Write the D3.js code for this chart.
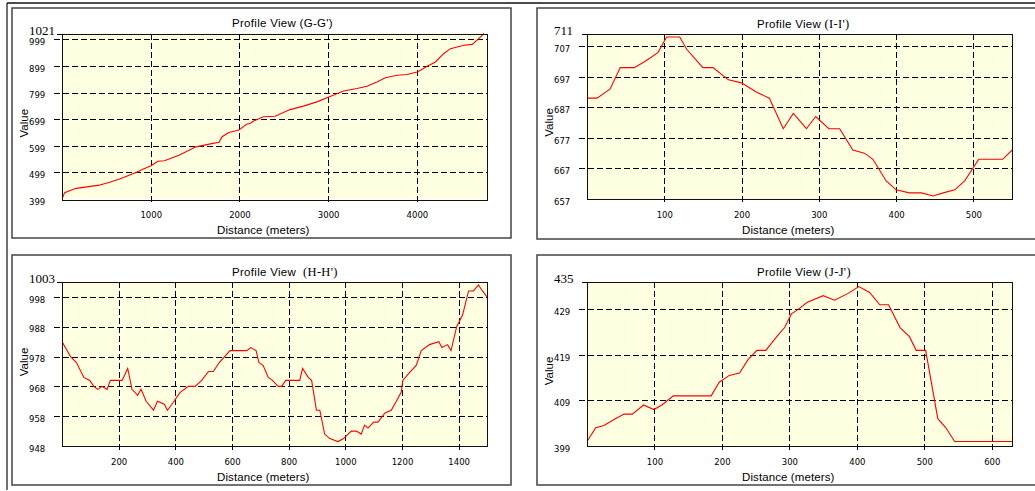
<!DOCTYPE html>
<html>
<head>
<meta charset="utf-8">
<script src="https://cdn.jsdelivr.net/npm/d3@7"></script>
<style>
  body { margin: 0; background: #fff; }
  svg { display: block; }
</style>
</head>
<body>
<div id="chart"></div>
<script>
// Profile G-G'
const ggDistance = [0, 30, 160, 420, 535, 650, 835, 910, 1005, 1080, 1155, 1325, 1510, 1700, 1770, 1805, 1880, 1995, 2080, 2119, 2160, 2269, 2401, 2571, 2721, 2872, 3015, 3173, 3324, 3437, 3550, 3644, 3776, 3889, 4002, 4040, 4115, 4209, 4303, 4379, 4529, 4624, 4718, 4755];
const ggValue = [399, 423, 439, 451, 462, 474, 499, 511, 524, 541, 543, 564, 595, 608, 612, 633, 649, 658, 680, 683, 692, 708, 710, 735, 748, 764, 783, 805, 814, 823, 839, 855, 864, 867, 876, 883, 898, 914, 946, 964, 977, 980, 1008, 1021];
const ggXTicks = [1000, 2000, 3000, 4000];
const ggYTicks = [399, 499, 599, 699, 799, 899, 999];

// Profile I-I'
const iiDistance = [0, 13, 30, 43, 61, 75, 92, 103, 120, 129, 150, 163, 183, 200, 219, 236, 254, 267, 284, 296, 313, 327, 344, 359, 370, 387, 400, 417, 433, 448, 461, 476, 489, 507, 538, 550];
const iiValue = [690, 690, 693, 700, 700, 702, 705, 710, 710, 706, 700, 700, 696, 695, 692, 690, 680, 685, 680, 684, 680, 680, 673, 672, 670, 663, 660, 659, 659, 658, 659, 660, 663, 670, 670, 673];
const iiXTicks = [100, 200, 300, 400, 500];
const iiYTicks = [657, 667, 677, 687, 697, 707];

// Profile H-H'
const hhDistance = [0, 18, 30, 51, 77, 98, 112, 126, 141, 159, 171, 212, 232, 247, 267, 279, 297, 323, 337, 361, 372, 388, 417, 446, 470, 493, 517, 534, 555, 593, 652, 666, 685, 695, 710, 728, 743, 763, 775, 790, 839, 849, 869, 881, 898, 910, 927, 945, 974, 994, 1021, 1039, 1056, 1068, 1080, 1100, 1115, 1139, 1162, 1180, 1197, 1203, 1221, 1250, 1268, 1297, 1330, 1341, 1361, 1373, 1393, 1414, 1435, 1452, 1470, 1484, 1500];
const hhValue = [983, 980, 978, 976, 971, 970, 968, 967, 968, 967, 970, 970, 974, 967, 965, 967, 963, 960, 963, 962, 960, 962, 966, 968, 968, 970, 973, 973, 976, 980, 980, 981, 980, 976, 975, 971, 970, 968, 968, 970, 970, 974, 971, 970, 960, 960, 952, 950.5, 949.5, 950.5, 953, 953, 952, 955, 954, 956, 956, 959, 960, 963, 966, 970, 972, 975, 980, 982, 983, 981, 982, 980, 988, 992, 1000, 1000, 1002, 1000, 998];
const hhXTicks = [200, 400, 600, 800, 1000, 1200, 1400];
const hhYTicks = [948, 958, 968, 978, 988, 998];

// Profile J-J'
const jjDistance = [0, 13, 25, 42, 55, 67, 84, 99, 111, 128, 184, 196, 211, 226, 239, 252, 265, 284, 293, 303, 313, 326, 350, 367, 387, 403, 419, 434, 447, 464, 478, 488, 502, 520, 532, 545, 630];
const jjValue = [400, 403, 403.5, 405, 406, 406, 408, 407, 408, 410, 410, 413, 414.5, 415, 418, 420, 420, 423.5, 425, 428, 429, 430.5, 432, 431, 432.5, 434, 432.7, 430, 430, 425, 423, 420, 420, 405, 403, 400, 400];
const jjXTicks = [100, 200, 300, 400, 500, 600];
const jjYTicks = [399, 409, 419, 429];

const panels = [
  { name: "(G-G')", gap: " ", serif: false, dist: ggDistance, val: ggValue, xMax: 4790, yMin: 399, yTop: 1021, xTicks: ggXTicks, yTicks: ggYTicks,
    box: [12, 8, 511, 238], plot: [62, 33.5, 487, 199], valueDy: 7 },
  { name: "(I-I')", gap: " ", serif: true, dist: iiDistance, val: iiValue, xMax: 550, yMin: 657, yTop: 711, xTicks: iiXTicks, yTicks: iiYTicks,
    box: [537, 8, 1040, 239], plot: [587, 34, 1012, 199], valueDy: 6 },
  { name: "(H-H')", gap: "  ", serif: true, dist: hhDistance, val: hhValue, xMax: 1500, yMin: 948, yTop: 1003, xTicks: hhXTicks, yTicks: hhYTicks,
    box: [12, 255, 511, 485], plot: [62, 282, 487, 446], valueDy: -2 },
  { name: "(J-J')", gap: " ", serif: true, dist: jjDistance, val: jjValue, xMax: 630, yMin: 399, yTop: 435, xTicks: jjXTicks, yTicks: jjYTicks,
    box: [537, 255, 1040, 485], plot: [587, 282, 1012, 446], valueDy: 7 }
];

const W = 1035, H = 491;
const svg = d3.select("#chart").append("svg").attr("width", W).attr("height", H);

// outer window frame
svg.append("line").attr("x1", 7).attr("x2", W).attr("y1", 3).attr("y2", 3).attr("stroke", "#111").attr("stroke-width", 1.5);
svg.append("line").attr("x1", 7).attr("x2", 7).attr("y1", 3).attr("y2", 490).attr("stroke", "#111").attr("stroke-width", 1.2);

const px = v => Math.round(v) + 0.5;

panels.forEach((p, i) => {
  const [bx0, by0, bx1, by1] = p.box;
  const [l, t, r, b] = p.plot;
  const g = svg.append("g");

  g.append("rect").attr("x", bx0).attr("y", by0).attr("width", bx1 - bx0).attr("height", by1 - by0)
    .attr("fill", "#fff").attr("stroke", "#444").attr("stroke-width", 1.5);

  const x = d3.scaleLinear().domain([0, p.xMax]).range([l, r]);
  const y = d3.scaleLinear().domain([p.yMin, p.yTop]).range([b, t]);

  g.append("rect").attr("x", l).attr("y", t).attr("width", r - l).attr("height", b - t).attr("fill", "#ffffe1");

  // grid lines (with small ticks outside the plot)
  g.selectAll(".hg").data(p.yTicks.filter(v => v > p.yMin)).join("line")
    .attr("x1", l - 8).attr("x2", r).attr("y1", d => px(y(d))).attr("y2", d => px(y(d)))
    .attr("stroke", "#000").attr("stroke-width", 1).attr("stroke-dasharray", "6,3").attr("shape-rendering", "crispEdges");
  g.selectAll(".vg").data(p.xTicks).join("line")
    .attr("x1", d => px(x(d))).attr("x2", d => px(x(d))).attr("y1", t).attr("y2", b + 5)
    .attr("stroke", "#000").attr("stroke-width", 1).attr("stroke-dasharray", "6,3").attr("shape-rendering", "crispEdges");
  g.append("line").attr("x1", l - 5).attr("x2", l).attr("y1", px(y(p.yTop))).attr("y2", px(y(p.yTop)))
    .attr("stroke", "#000").attr("shape-rendering", "crispEdges");

  // profile line
  const clipId = "clip" + i;
  g.append("clipPath").attr("id", clipId).append("rect").attr("x", l).attr("y", t - 1).attr("width", r - l).attr("height", b - t + 1);
  const pts = p.dist.map((d, k) => [d, p.val[k]]);
  g.append("path").datum(pts).attr("clip-path", `url(#${clipId})`)
    .attr("d", d3.line().x(d => x(d[0])).y(d => y(d[1])))
    .attr("fill", "none").attr("stroke", "#ff0000").attr("stroke-width", 1.1);

  g.append("rect").attr("x", px(l)).attr("y", px(t)).attr("width", Math.round(r - l)).attr("height", Math.round(b - t))
    .attr("fill", "none").attr("stroke", "#111").attr("stroke-width", 1.2).attr("shape-rendering", "crispEdges");

  // axis labels via d3 axes
  const xAxis = d3.axisBottom(x).tickValues(p.xTicks).tickSize(0).tickPadding(12.5).tickFormat(d3.format("d"));
  const xa = g.append("g").attr("transform", `translate(0,${b})`).call(xAxis);
  xa.select(".domain").remove();
  xa.selectAll("text").attr("font-family", "DejaVu Sans").attr("font-size", 8.5).attr("fill", "#000");

  const yAxis = d3.axisLeft(y).tickValues(p.yTicks).tickSize(0).tickPadding(0).tickFormat(d3.format("d"));
  const ya = g.append("g").attr("transform", `translate(${l - 33},2.5)`).call(yAxis);
  ya.select(".domain").remove();
  ya.selectAll("text").attr("text-anchor", "start").attr("x", 0)
    .attr("font-family", "DejaVu Sans").attr("font-size", 8.5).attr("fill", "#000");

  g.append("text").attr("x", l - 33).attr("y", y(p.yTop) + 1).text(p.yTop)
    .attr("font-family", "Liberation Serif").attr("font-size", 13).attr("fill", "#000");

  // titles
  const title = g.append("text").attr("x", l + 170).attr("y", t - 6.5)
    .attr("font-family", "Liberation Sans").attr("font-size", 11.5).attr("letter-spacing", 0.3)
    .attr("fill", "#000").style("white-space", "pre");
  title.append("tspan").text("Profile View" + p.gap);
  title.append("tspan").text(p.name).attr("font-family", p.serif ? "Liberation Serif" : "Liberation Sans").attr("font-size", p.serif ? 12.5 : 11.5);

  g.append("text").attr("x", l + 155).attr("y", b + 34.5).text("Distance (meters)")
    .attr("font-family", "Liberation Sans").attr("font-size", 11.5).attr("letter-spacing", 0.1).attr("fill", "#000");

  g.append("text").attr("transform", `translate(${l - 34},${(t + b) / 2 + p.valueDy}) rotate(-90)`)
    .attr("text-anchor", "middle").text("Value")
    .attr("font-family", "Liberation Sans").attr("font-size", 11.5).attr("fill", "#000");
});
</script>
</body>
</html>
